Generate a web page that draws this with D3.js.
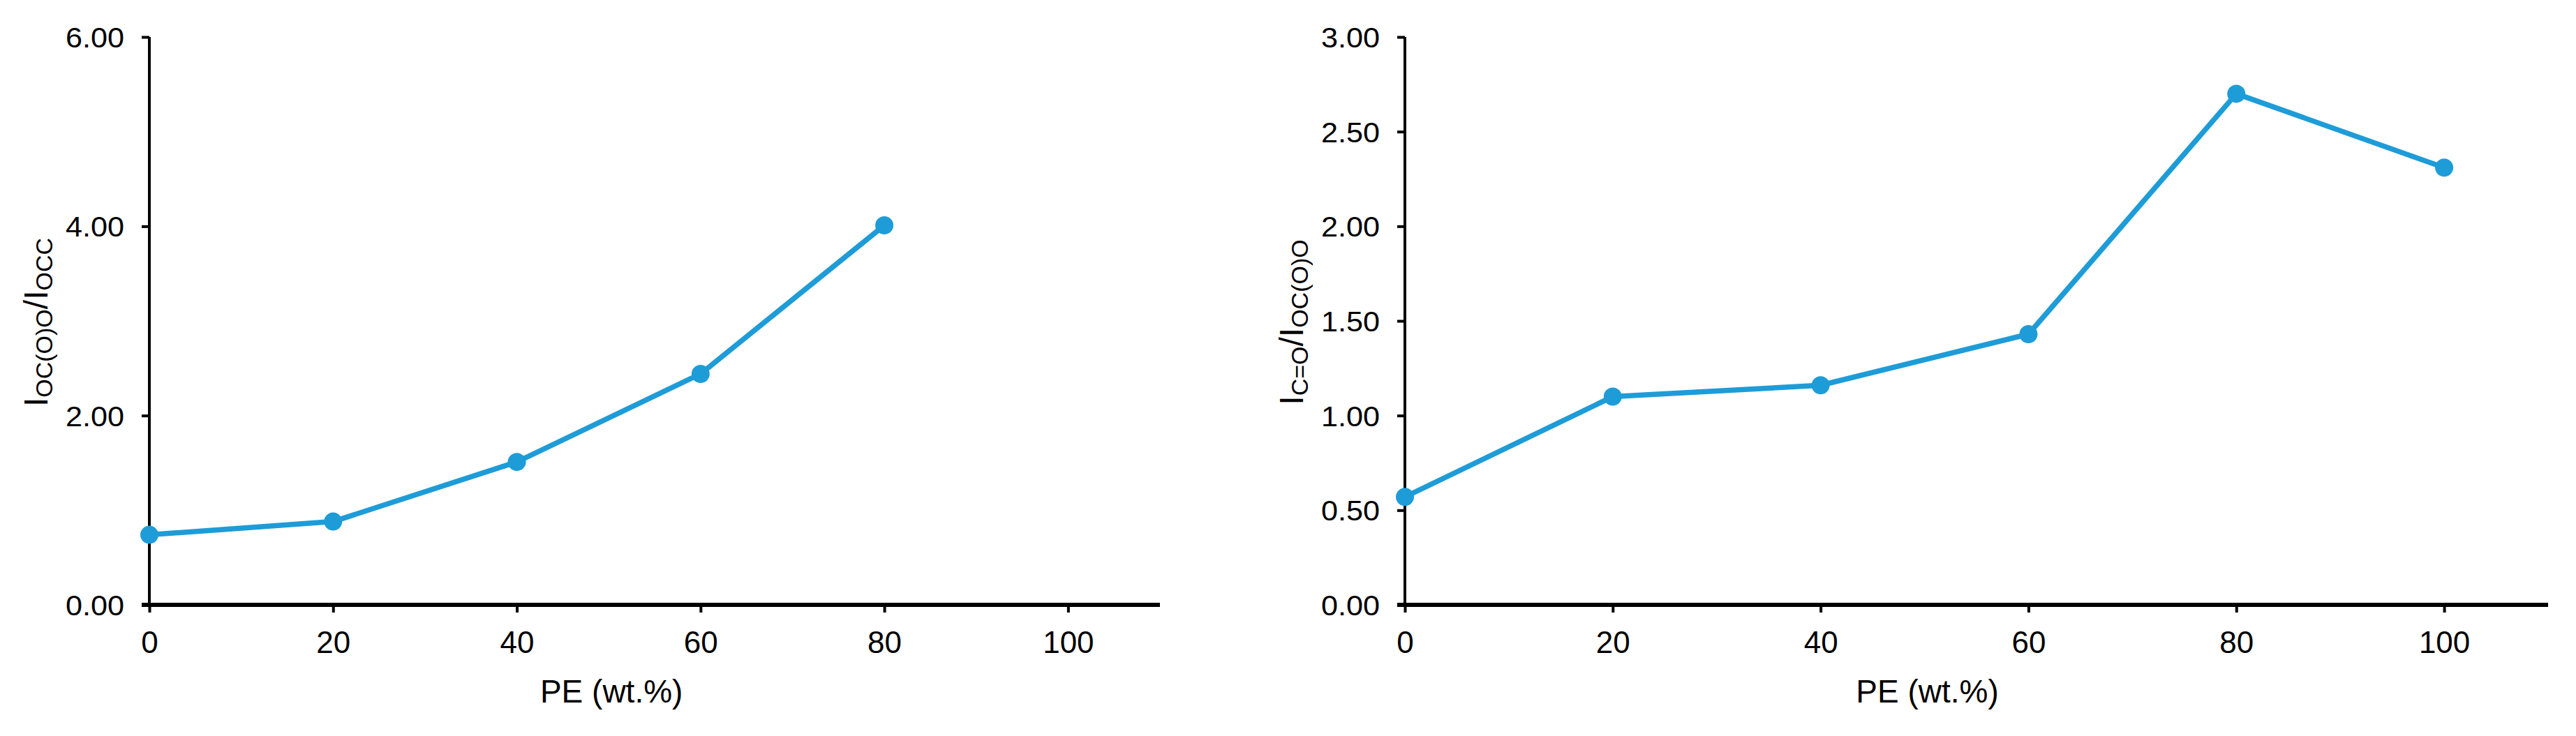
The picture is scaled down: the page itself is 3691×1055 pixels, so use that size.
<!DOCTYPE html>
<html>
<head>
<meta charset="utf-8">
<script src="https://cdn.jsdelivr.net/npm/d3@7"></script>
<style>
  html, body { margin: 0; padding: 0; background: #fff; }
  svg { display: block; }
  text { font-family: "Liberation Sans", Arial, sans-serif; fill: #000; }
</style>
</head>
<body>
<svg id="chart" width="3691" height="1055"></svg>
<script>
// ---- data ----
const peLeft = [0, 20, 40, 60, 80];
const ratioOCOO_OCC = [0.74, 0.88, 1.51, 2.44, 4.01];
const peRight = [0, 20, 40, 60, 80, 100];
const ratioCO_OCOO = [0.57, 1.10, 1.16, 1.43, 2.70, 2.31];
const xTicks = [0, 20, 40, 60, 80, 100];
const yTicksLeft = [0, 2, 4, 6];
const yTicksRight = [0, 0.5, 1, 1.5, 2, 2.5, 3];
const xTitle = "PE (wt.%)";
const yLabelLeft = [["I", ""], ["OC(O)O", "sub"], ["/I", ""], ["OCC", "sub"]];
const yLabelRight = [["I", ""], ["C=O", "sub"], ["/I", ""], ["OC(O)O", "sub"]];

const color = "#1e9cd8";
const svg = d3.select("#chart");

function panel(cfg) {
  const x = d3.scaleLinear().domain([0, 110]).range([cfg.x0, cfg.x1]);
  const y = d3.scaleLinear().domain([0, cfg.ymax]).range([867, 53]);
  const g = svg.append("g");

  // y axis
  const ya = g.append("g").attr("transform", `translate(${cfg.x0},0)`)
    .call(d3.axisLeft(y).tickValues(cfg.yTicks).tickFormat(d3.format(".2f")).tickSize(11).tickPadding(25));
  ya.select(".domain").attr("d", `M0,${y(cfg.ymax)}V${y(0)}`).attr("stroke", "#000").attr("stroke-width", 4);
  ya.selectAll(".tick line").attr("stroke", "#000").attr("stroke-width", 4);
  ya.selectAll(".tick text").style("font-size", "40px").attr("fill", "#000")
    .attr("transform", "scale(1.08,1)")
    .attr("x", -36 / 1.08).attr("dy", "0.36em");

  // x axis
  const xa = g.append("g").attr("transform", `translate(0,${y(0)})`)
    .call(d3.axisBottom(x).tickValues(xTicks).tickSize(11).tickPadding(27));
  xa.select(".domain").attr("d", `M${cfg.x0 - 11},0H${cfg.x1}`).attr("stroke", "#000").attr("stroke-width", 6);
  xa.selectAll(".tick line").attr("stroke", "#000").attr("stroke-width", 4);
  xa.selectAll(".tick text").style("font-size", "44px").attr("fill", "#000").attr("dy", "0.71em");

  // x title
  g.append("text")
    .attr("x", (x(0) + x(100)) / 2 + 4)
    .attr("y", 1007)
    .attr("text-anchor", "middle")
    .style("font-size", "46px")
    .text(xTitle);

  // y label
  const yl = g.append("text")
    .attr("transform", `translate(${cfg.labelX},${(y(0) + y(cfg.ymax)) / 2 + 2}) rotate(-90)`)
    .attr("text-anchor", "middle")
    .style("font-size", "48px");
  cfg.yLabel.forEach(([t, kind]) => {
    const ts = yl.append("tspan").text(t);
    if (kind === "sub") ts.style("font-size", "34px").attr("baseline-shift", "-7px");
  });

  // line
  const pts = cfg.xs.map((d, i) => [d, cfg.ys[i]]);
  g.append("path")
    .attr("d", d3.line().x(d => x(d[0])).y(d => y(d[1]))(pts))
    .attr("fill", "none").attr("stroke", color).attr("stroke-width", 7.5)
    .attr("stroke-linejoin", "round");
  g.selectAll("circle.pt").data(pts).join("circle")
    .attr("cx", d => x(d[0])).attr("cy", d => y(d[1])).attr("r", 13)
    .attr("fill", color);
}

panel({ x0: 214, x1: 1662, ymax: 6, yTicks: yTicksLeft, xs: peLeft, ys: ratioOCOO_OCC, yLabel: yLabelLeft, labelX: 68 });
panel({ x0: 2013, x1: 3651, ymax: 3, yTicks: yTicksRight, xs: peRight, ys: ratioCO_OCOO, yLabel: yLabelRight, labelX: 1867 });
</script>
</body>
</html>
